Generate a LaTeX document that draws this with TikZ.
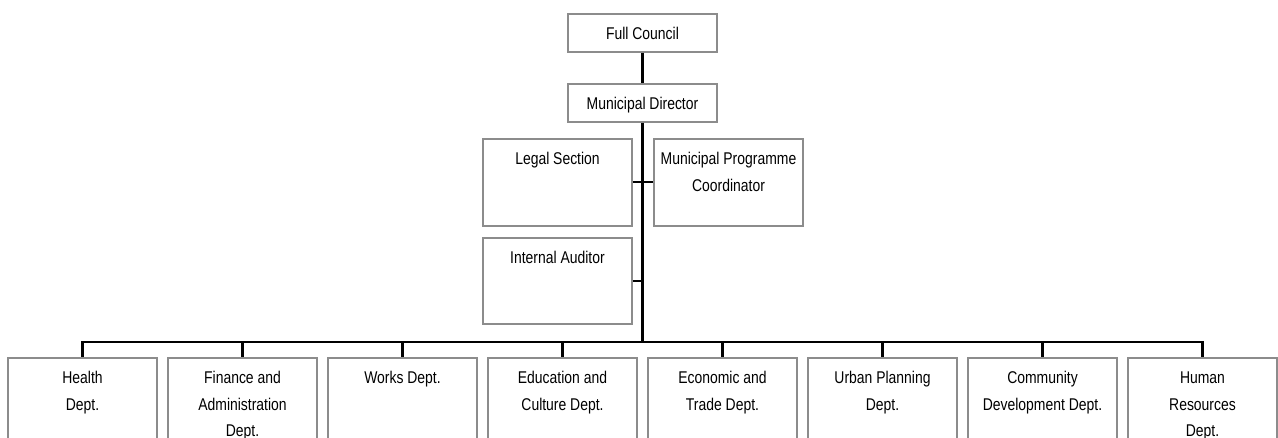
\documentclass[tikz,border=0pt]{standalone}
\usepackage{fontspec}
\setmainfont{Liberation Sans}[FakeStretch=0.82]
\usetikzlibrary{positioning}
\definecolor{boxgray}{RGB}{140,140,140}
\newcommand{\unittext}[2]{\parbox[t][#1][t]{149pt}{\centering\rule{0pt}{26pt}#2}}
\tikzset{
  unit/.style={draw=boxgray, line width=1.6pt, inner sep=0pt, anchor=north,
    font=\fontsize{17}{26.3}\selectfont},
  link/.style={draw=black, line width=2.2pt}
}

\begin{document}
\begin{tikzpicture}[x=1pt,y=-1pt]
\clip (0,0) rectangle (1278,438);
% head of the chart
\node[unit] (council) at (642.5,13) {\unittext{38pt}{Full Council}};
\node[unit] (director) at (642.5,83) {\unittext{38pt}{Municipal Director}};
% staff units
\node[unit] (legal) at (557.5,138) {\unittext{87pt}{Legal Section}};
\node[unit] (mpc) at (728.5,138) {\unittext{87pt}{Municipal Programme\\Coordinator}};
\node[unit] (auditor) at (557.5,237) {\unittext{86pt}{Internal Auditor}};
% departments
\node[unit] (health) at (82.5,357) {\unittext{100pt}{Health\\Dept.}};
\node[unit] (finance) at (242.5,357) {\unittext{100pt}{Finance and\\Administration\\Dept.}};
\node[unit] (works) at (402.5,357) {\unittext{100pt}{Works Dept.}};
\node[unit] (education) at (562.5,357) {\unittext{100pt}{Education and\\Culture Dept.}};
\node[unit] (economic) at (722.5,357) {\unittext{100pt}{Economic and\\Trade Dept.}};
\node[unit] (urban) at (882.5,357) {\unittext{100pt}{Urban Planning\\Dept.}};
\node[unit] (community) at (1042.5,357) {\unittext{100pt}{Community\\Development Dept.}};
\node[unit] (hr) at (1202.5,357) {\unittext{100pt}{Human\\Resources\\Dept.}};

\coordinate (bar) at (642.5,342);
\draw[link] (council) -- (director);
\draw[link] (director.south) -- (bar);
\draw[link] (legal.east) -- (mpc.west);
\draw[link] (auditor.east) -- (auditor.east -| bar);
\draw[link] (health.north) -- (health.north |- bar) -- (hr.north |- bar) -- (hr.north);
\draw[link] (finance.north) -- (finance.north |- bar);
\draw[link] (works.north) -- (works.north |- bar);
\draw[link] (education.north) -- (education.north |- bar);
\draw[link] (economic.north) -- (economic.north |- bar);
\draw[link] (urban.north) -- (urban.north |- bar);
\draw[link] (community.north) -- (community.north |- bar);
\end{tikzpicture}
\end{document}
